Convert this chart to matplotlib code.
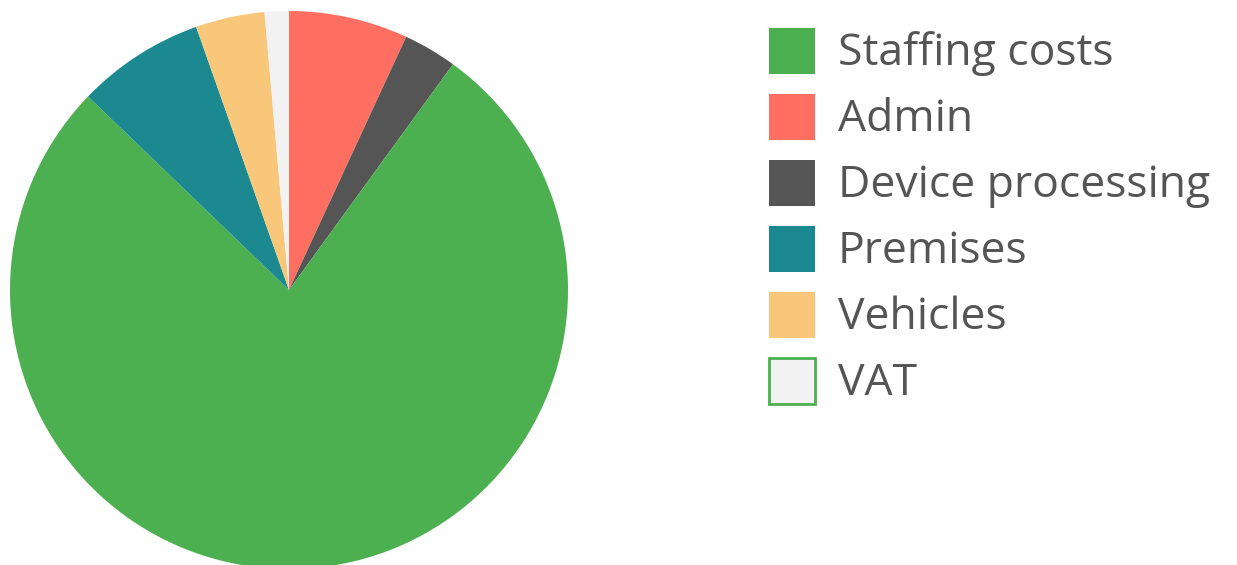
import matplotlib
matplotlib.use("Agg")
import matplotlib.pyplot as plt
from matplotlib.patches import Rectangle

# Cost breakdown (percent), pie order clockwise from 12 o'clock
pie_labels = ["Admin", "Device processing", "Staffing costs", "Premises", "Vehicles", "VAT"]
pie_values = [6.9, 3.1, 77.2, 7.4, 4.0, 1.4]

# Legend order
legend_labels = ["Staffing costs", "Admin", "Device processing", "Premises", "Vehicles", "VAT"]

colors = {
    "Staffing costs": "#4CAF50",
    "Admin": "#FF6F61",
    "Device processing": "#555555",
    "Premises": "#1C8890",
    "Vehicles": "#F9C77A",
    "VAT": "#F2F2F2",
}

W, H = 1237, 565
fig = plt.figure(figsize=(W / 100, H / 100), dpi=100)
ax = fig.add_axes([0, 0, 1, 1])

# axes in pixel units, y pointing up (pixel row r -> H - r)
ax.pie(
    pie_values,
    colors=[colors[l] for l in pie_labels],
    startangle=90,
    counterclock=False,
    center=(289, H - 290),
    radius=279,
    wedgeprops=dict(linewidth=0),
    frame=True,
)
ax.set_xlim(0, W)
ax.set_ylim(0, H)
ax.set_aspect("equal")
ax.axis("off")

# legend drawn by hand so it sits where the original does
box = 46
for i, lab in enumerate(legend_labels):
    yc = H - (51 + i * 66)
    is_vat = lab == "VAT"
    ax.add_patch(Rectangle((769, yc - box / 2), box, box, facecolor=colors[lab],
                           edgecolor="#4CAF50" if is_vat else colors[lab],
                           linewidth=2 if is_vat else 0))
    ax.text(838, yc - 3, lab, fontsize=32, color="#555555", va="center", ha="left",
            family="Open Sans")

fig.savefig("out.png", dpi=100)
